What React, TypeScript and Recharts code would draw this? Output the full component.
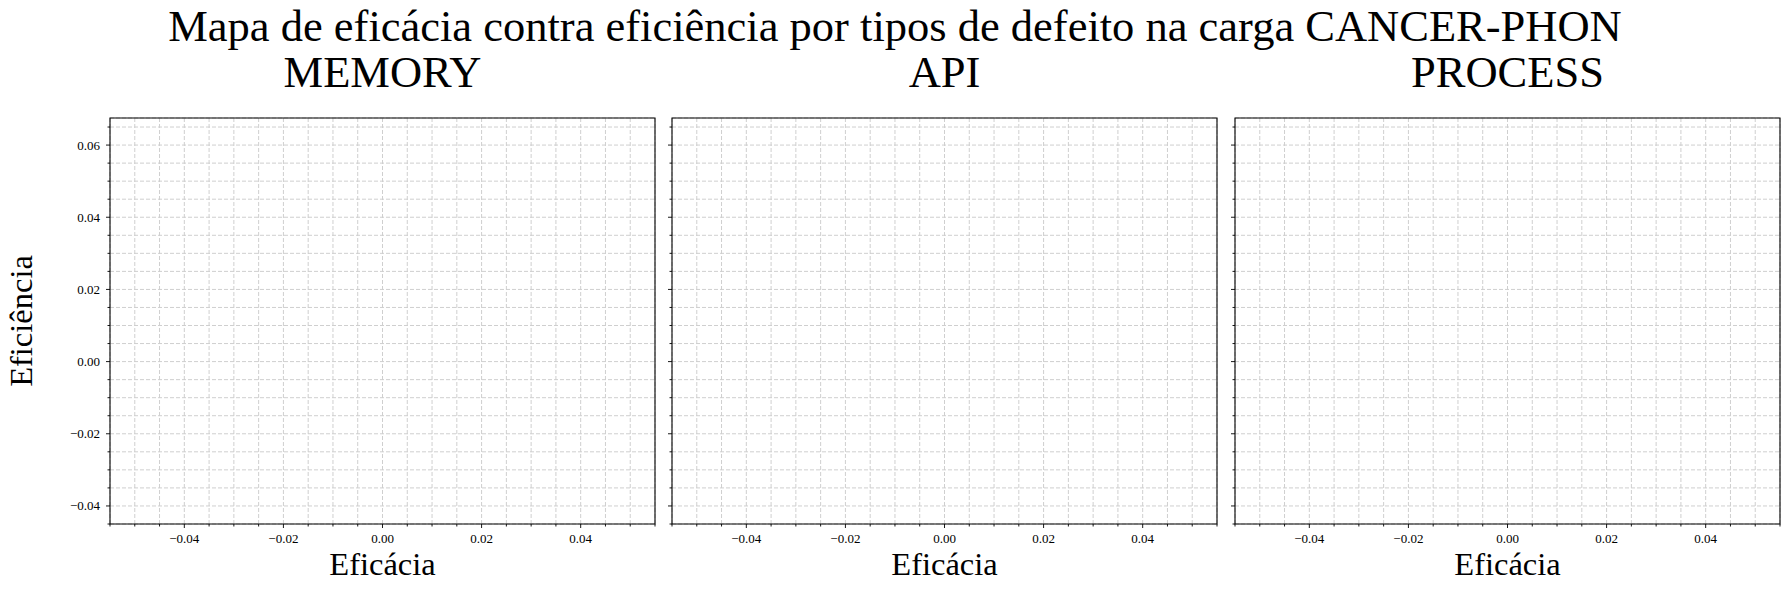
import React from "react";
import {
  ScatterChart,
  Scatter,
  XAxis,
  YAxis,
  CartesianGrid,
  ReferenceArea,
} from "recharts";

const FONT = "'Liberation Serif', 'Times New Roman', serif";

// painéis (tipos de defeito) e os pontos de cada um (vazios na figura original)
const PANELS = ["MEMORY", "API", "PROCESS"];
const MEMORY_POINTS: { x: number; y: number }[] = [];
const API_POINTS: { x: number; y: number }[] = [];
const PROCESS_POINTS: { x: number; y: number }[] = [];
const PANEL_POINTS = [MEMORY_POINTS, API_POINTS, PROCESS_POINTS];

const X_DOMAIN = [-0.055, 0.055];
const Y_DOMAIN = [-0.045, 0.0675];

// ticks menores (0.005) — os maiores (0.02) levam rótulo
const X_TICKS = [
  -0.055, -0.05, -0.045, -0.04, -0.035, -0.03, -0.025, -0.02, -0.015, -0.01, -0.005,
  0, 0.005, 0.01, 0.015, 0.02, 0.025, 0.03, 0.035, 0.04, 0.045, 0.05, 0.055,
];
const Y_TICKS = [
  -0.045, -0.04, -0.035, -0.03, -0.025, -0.02, -0.015, -0.01, -0.005,
  0, 0.005, 0.01, 0.015, 0.02, 0.025, 0.03, 0.035, 0.04, 0.045, 0.05, 0.055, 0.06, 0.065,
];
const MAJOR_TICKS = [-0.04, -0.02, 0, 0.02, 0.04, 0.06];

const TITLE = "Mapa de eficácia contra eficiência por tipos de defeito na carga CANCER-PHON";
const X_LABEL = "Eficácia";
const Y_LABEL = "Eficiência";

const PANEL_LEFTS = [110, 672, 1235];
const PANEL_TOP = 118;
const PANEL_W = 545;
const PANEL_H = 406;
const Y_AXIS_W = 50;
const M_TOP = 5;
const M_RIGHT = 5;

const isMajor = (v: number) => MAJOR_TICKS.some((m) => Math.abs(m - v) < 1e-9);
const fmt = (v: number) => v.toFixed(2).replace("-", "\u2212");

function XTick(props: any) {
  const { x, y, payload } = props;
  const v = payload.value;
  const major = isMajor(v);
  return (
    <g>
      <line x1={x} x2={x} y1={y} y2={y + (major ? 4 : 2.5)} stroke="#000" strokeWidth={0.9} />
      {major && (
        <text x={x} y={y + 19} textAnchor="middle" fontSize={13} fontFamily={FONT} fill="#000">
          {fmt(v)}
        </text>
      )}
    </g>
  );
}

function YTick(props: any) {
  const { x, y, payload, showLabel } = props;
  const v = payload.value;
  const major = isMajor(v);
  return (
    <g>
      <line x1={x} x2={x - (major ? 4 : 2.5)} y1={y} y2={y} stroke="#000" strokeWidth={0.9} />
      {major && showLabel && (
        <text x={x - 10} y={y + 4.5} textAnchor="end" fontSize={13} fontFamily={FONT} fill="#000">
          {fmt(v)}
        </text>
      )}
    </g>
  );
}

function Panel({ idx }: { idx: number }) {
  const left = PANEL_LEFTS[idx] - Y_AXIS_W;
  return (
    <div style={{ position: "absolute", left, top: PANEL_TOP - M_TOP }}>
      <ScatterChart
        width={Y_AXIS_W + PANEL_W + M_RIGHT}
        height={M_TOP + PANEL_H + 30}
        margin={{ top: M_TOP, right: M_RIGHT, bottom: 0, left: 0 }}
      >
        <CartesianGrid stroke="#cfcfcf" strokeDasharray="4 2" strokeWidth={1} />
        <XAxis
          type="number"
          dataKey="x"
          domain={X_DOMAIN}
          ticks={X_TICKS}
          interval={0}
          allowDataOverflow
          axisLine={false}
          tickLine={false}
          tickSize={0}
          tickMargin={0}
          height={30}
          tick={(p: any) => <XTick {...p} />}
        />
        <YAxis
          type="number"
          dataKey="y"
          domain={Y_DOMAIN}
          ticks={Y_TICKS}
          interval={0}
          allowDataOverflow
          axisLine={false}
          tickLine={false}
          tickSize={0}
          tickMargin={0}
          width={Y_AXIS_W}
          tick={(p: any) => <YTick {...p} showLabel={idx === 0} />}
        />
        <ReferenceArea
          x1={X_DOMAIN[0]}
          x2={X_DOMAIN[1]}
          y1={Y_DOMAIN[0]}
          y2={Y_DOMAIN[1]}
          stroke="#000"
          strokeWidth={1.1}
          fill="none"
          fillOpacity={0}
        />
        <Scatter data={PANEL_POINTS[idx]} fill="#1f77b4" isAnimationActive={false} />
      </ScatterChart>
    </div>
  );
}

export default function App() {
  return (
    <div
      style={{
        position: "absolute",
        left: 0,
        top: 0,
        width: 1790,
        height: 593,
        background: "#fff",
        fontFamily: FONT,
      }}
    >
      {PANELS.map((_, i) => (
        <Panel key={i} idx={i} />
      ))}
      <svg
        width={1790}
        height={593}
        style={{ position: "absolute", left: 0, top: 0, pointerEvents: "none" }}
      >
        <text x={895} y={41} textAnchor="middle" fontSize={44.5} fontFamily={FONT} fill="#000">
          {TITLE}
        </text>
        {PANELS.map((name, i) => (
          <g key={name}>
            <text
              x={PANEL_LEFTS[i] + PANEL_W / 2}
              y={87}
              textAnchor="middle"
              fontSize={44.5}
              fontFamily={FONT}
              fill="#000"
            >
              {name}
            </text>
            <text
              x={PANEL_LEFTS[i] + PANEL_W / 2}
              y={575}
              textAnchor="middle"
              fontSize={32.5}
              fontFamily={FONT}
              fill="#000"
            >
              {X_LABEL}
            </text>
          </g>
        ))}
        <text
          x={32}
          y={PANEL_TOP + PANEL_H / 2}
          transform={`rotate(-90 32 ${PANEL_TOP + PANEL_H / 2})`}
          textAnchor="middle"
          fontSize={32.5}
          fontFamily={FONT}
          fill="#000"
        >
          {Y_LABEL}
        </text>
      </svg>
    </div>
  );
}
